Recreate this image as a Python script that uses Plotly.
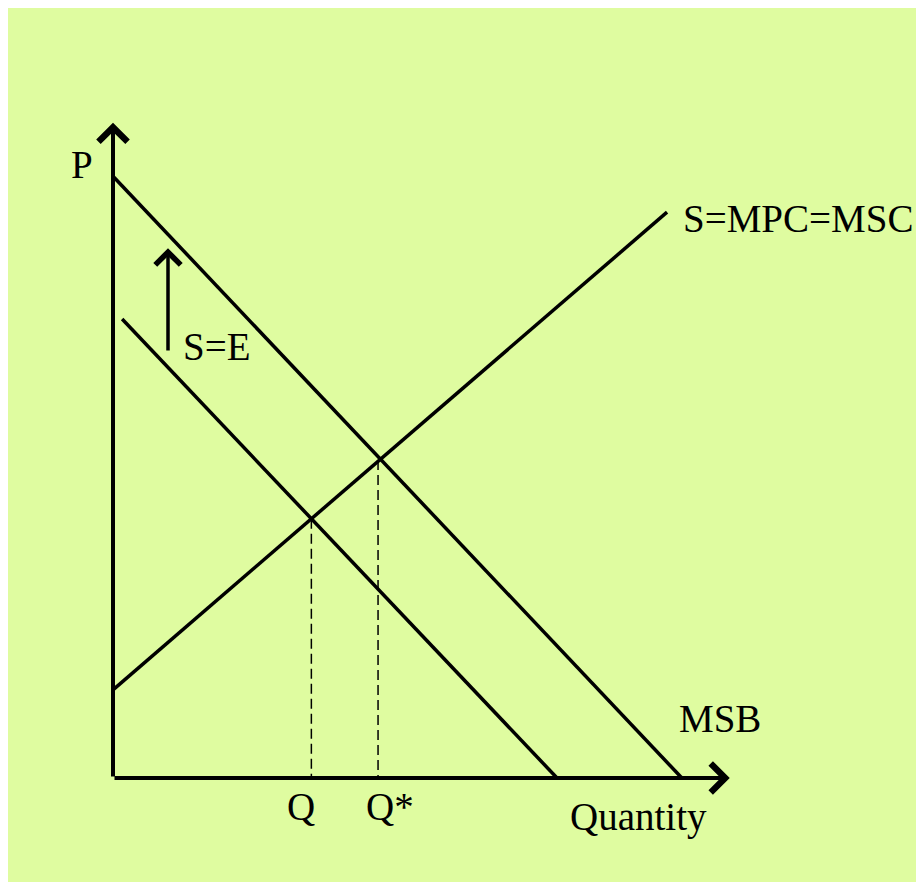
import plotly.graph_objects as go

# curves of the externality diagram (quantity, price)
msb_q = [0, 9.98]
msb_p = [10.03, 0]
demand_q = [0.16, 7.79]
demand_p = [7.65, 0]
supply_q = [0, 9.72]
supply_p = [1.47, 9.43]

# equilibria: Q (private) and Q* (social)
eq_q = [3.48, 4.65]
eq_p = [4.32, 5.3]
eq_labels = ["Q", "Q*"]

q_axis_end = 10.82
p_axis_end = 10.92
shift_q = 0.965
shift_from, shift_to = 7.1, 8.83

BG = "#dffca0"
FONT = dict(family="Liberation Serif, Times New Roman, serif", size=39, color="black")

fig = go.Figure()

line = dict(color="black", width=3.5)
fig.add_trace(go.Scatter(x=msb_q, y=msb_p, mode="lines", line=line))
fig.add_trace(go.Scatter(x=demand_q, y=demand_p, mode="lines", line=line))
fig.add_trace(go.Scatter(x=supply_q, y=supply_p, mode="lines", line=line))

for q, p in zip(eq_q, eq_p):
    fig.add_trace(go.Scatter(x=[q, q], y=[p, 0], mode="lines",
                             line=dict(color="black", width=1.5, dash="10px,5px")))

arrow = dict(showarrow=True, arrowhead=4, arrowsize=1.4, arrowwidth=4, arrowcolor="black",
             axref="x", ayref="y", text="")
annotations = [
    dict(x=0, y=p_axis_end, ax=0, ay=0, **arrow),
    dict(x=q_axis_end, y=0, ax=0, ay=0, **arrow),
    dict(x=shift_q, y=shift_to, ax=shift_q, ay=shift_from, **dict(arrow, arrowwidth=3.5)),
]

def label(text, q, p, xanchor="center"):
    return dict(x=q, y=p, text=text, showarrow=False, font=FONT,
                xanchor=xanchor, yanchor="middle")

annotations += [
    label("P", -0.54, 10.22),
    label("S=MPC=MSC", 9.96, 9.33, "left"),
    label("MSB", 9.89, 1.0, "left"),
    label("S=E", 1.19, 7.2, "left"),
    label(eq_labels[0], 3.30, -0.47),
    label(eq_labels[1], 4.86, -0.47),
    label("Quantity", 7.98, -0.65, "left"),
]

# the page body adds an 8px offset, so the figure covers the window minus that
fig.update_layout(
    width=916, height=875,
    margin=dict(l=0, r=0, t=0, b=1),
    paper_bgcolor="white",
    plot_bgcolor=BG,
    showlegend=False,
    xaxis=dict(visible=False, range=[-1.8421, 14.2281], fixedrange=True),
    yaxis=dict(visible=False, range=[-1.7333, 12.8333], fixedrange=True),
    annotations=annotations,
)

fig.write_html("out.html")
